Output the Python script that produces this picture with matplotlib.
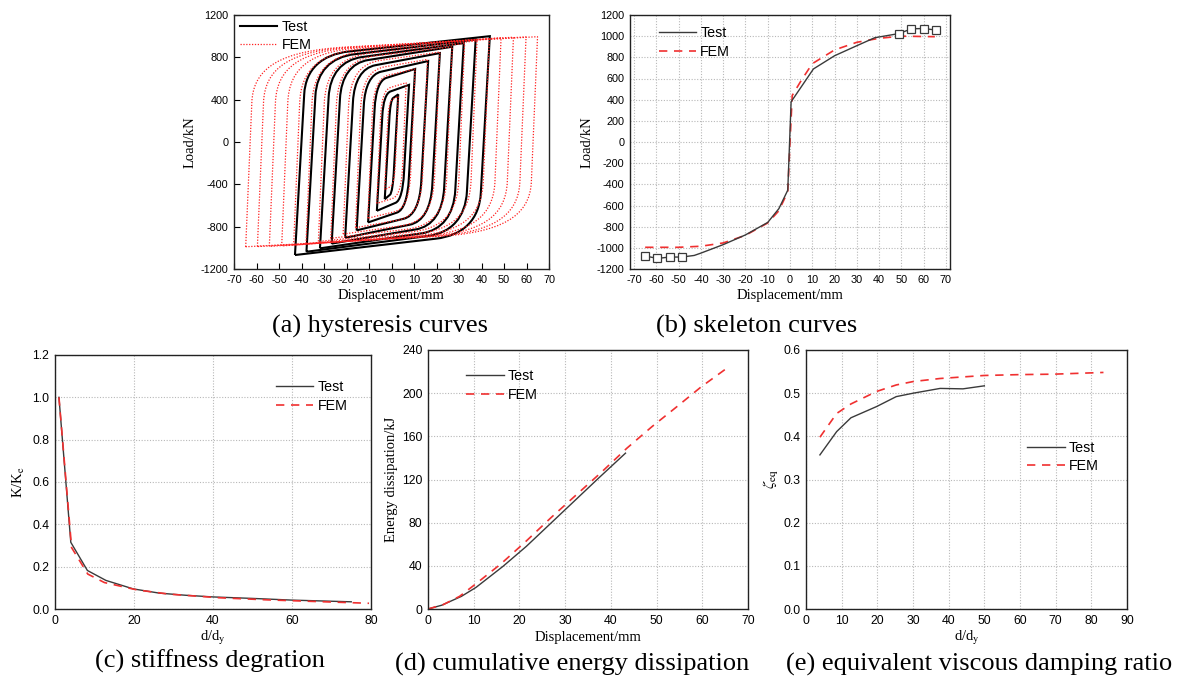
import numpy as np
import matplotlib
matplotlib.use('Agg')
import matplotlib.pyplot as plt
from matplotlib.path import Path
from matplotlib.patches import PathPatch
from matplotlib.lines import Line2D

plt.rcParams['font.family'] = ['Liberation Sans', 'DejaVu Sans']
plt.rcParams['mathtext.fontset'] = 'stix'
plt.rcParams['axes.unicode_minus'] = False

# ---------------- data ----------------
# (a) hysteresis loops: peak points of each cycle
test_pos_disp = [3.0, 7.8, 10.5, 16.3, 21.5, 27.0, 32.1, 37.4, 43.7]
test_pos_load = [450, 540, 690, 765, 840, 900, 935, 968, 1000]
test_neg_disp = [-3.0, -6.5, -10.4, -15.5, -20.6, -26.6, -31.8, -37.8, -42.9]
test_neg_load = [-540, -650, -760, -835, -905, -960, -1005, -1037, -1068]
fem_pos_disp = [3.0, 6.5, 10.5, 16.0, 21.5, 27.0, 32.5, 38.0, 43.5, 48.7, 54.2, 59.8, 64.9]
fem_pos_load = [430, 560, 690, 780, 850, 900, 930, 955, 975, 985, 990, 993, 995]
fem_neg_disp = [-3.0, -6.5, -10.5, -16.0, -21.5, -27.0, -32.5, -38.0, -43.5, -48.8, -54.3, -59.6, -64.8]
fem_neg_load = [-450, -580, -720, -810, -870, -910, -940, -960, -975, -982, -986, -988, -990]

# (b) skeleton curves
skel_test_disp = [-65, -59.5, -54, -48.5, -43, -40, -30, -20, -10, -5, -1, 0.5, 10.5, 20, 30, 38,
                  49, 54.5, 60, 65.5]
skel_test_load = [-1077, -1100, -1087, -1087, -1072, -1050, -970, -878, -760, -630, -455, 380, 690,
                  815, 910, 985, 1025, 1070, 1072, 1058]
skel_test_marked = [0, 1, 2, 3, 16, 17, 18, 19]
skel_fem_disp = [-65, -50, -40, -30, -20, -10, -5, -1, 0, 1, 5, 10, 20, 30, 40, 50, 65]
skel_fem_load = [-995, -995, -985, -954, -882, -765, -650, -470, 0, 440, 580, 740, 870, 942, 980, 1000, 995]

# (c) stiffness degradation
stiff_test_x = [1, 4, 8.2, 12.9, 19.8, 26.4, 33, 40, 50, 60, 75]
stiff_test_y = [1.0, 0.315, 0.182, 0.135, 0.095, 0.075, 0.065, 0.057, 0.05, 0.042, 0.034]
stiff_fem_x = [1, 4.2, 8.3, 12.5, 20.8, 29, 41.7, 54, 66.7, 79.5]
stiff_fem_y = [1.0, 0.29, 0.165, 0.125, 0.09, 0.07, 0.053, 0.043, 0.035, 0.027]

# (d) cumulative energy dissipation
energy_test_x = [0, 3, 7.3, 10.5, 16.4, 21.5, 27, 32, 37.5, 43.2]
energy_test_y = [0, 3.5, 11.7, 20, 39.5, 58, 80, 100, 122, 144.4]
energy_fem_x = [0, 3.3, 6.9, 10.5, 16, 21.5, 27, 32.5, 38, 43.5, 49, 54.3, 59.8, 65]
energy_fem_y = [0, 4, 11.7, 23.4, 42, 63, 85, 106, 127, 149, 169, 187, 206, 222]

# (e) equivalent viscous damping ratio
damp_test_x = [3.9, 8.6, 12.6, 19.8, 25.3, 30.1, 37.6, 44, 50]
damp_test_y = [0.357, 0.411, 0.443, 0.469, 0.492, 0.500, 0.511, 0.510, 0.517]
damp_fem_x = [3.9, 8.6, 12.6, 19.8, 25.3, 30.1, 37.6, 50, 60, 69.4, 83.4]
damp_fem_y = [0.398, 0.453, 0.475, 0.504, 0.519, 0.527, 0.534, 0.541, 0.543, 0.544, 0.548]

captions = ['(a) hysteresis curves', '(b) skeleton curves', '(c) stiffness degration',
            '(d) cumulative energy dissipation', '(e) equivalent viscous damping ratio']

# ---------------- style ----------------
RED = '#f03030'
DARK = '#3a3a3a'
SERIF = ['Liberation Serif', 'DejaVu Serif']
TICK_A = 7.8
TICK_C = 8.8
LAB = 10.5
LEG = 10.3

fig = plt.figure(figsize=(11.84, 6.82), dpi=100)
W, H = 1184.0, 682.0


def add_axes(l, r, t, b):
    return fig.add_axes([l / W, 1 - b / H, (r - l) / W, (b - t) / H])


def style(ax, fs, grid=True):
    for s in ax.spines.values():
        s.set_color('#222222')
        s.set_linewidth(1.0)
    if grid:
        ax.grid(True, color='#b8b8b8', linestyle=(0, (1, 1.5)), linewidth=0.8)
        ax.tick_params(length=0, labelsize=fs, pad=4)
    else:
        ax.tick_params(direction='in', length=4, width=0.8, labelsize=fs, pad=4)
    ax.set_axisbelow(True)


def loop_patch(ax, dp, pp, dn, pn, k_el, knee, width, ratio, c, **kw):
    span = dp - dn
    st = pp * (1 - ratio) / span
    sb = -pn * (1 - ratio) / span
    top = lambda x: pp - st * (dp - x)
    bot = lambda x: pn + sb * (x - dn)
    w = width * span
    yk = knee * pp
    xk = dn + (yk - pn) / k_el
    xc = dn + (top(dn) - pn) / k_el
    yc = top(xc)
    xe = xc + w
    ye = top(xe)
    v = [(dn, pn), (xk, yk),
         (xk + c * (xc - xk), yk + c * (yc - yk)),
         (xe + c * (xc - xe), ye + c * (yc - ye)), (xe, ye), (dp, pp)]
    yk2 = knee * pn
    xk2 = dp - (pp - yk2) / k_el
    xc2 = dp - (pp - bot(dp)) / k_el
    yc2 = bot(xc2)
    xe2 = xc2 - w
    ye2 = bot(xe2)
    v += [(xk2, yk2),
          (xk2 + c * (xc2 - xk2), yk2 + c * (yc2 - yk2)),
          (xe2 + c * (xc2 - xe2), ye2 + c * (yc2 - ye2)), (xe2, ye2), (dn, pn)]
    codes = [Path.MOVETO, Path.LINETO, Path.CURVE4, Path.CURVE4, Path.CURVE4, Path.LINETO,
             Path.LINETO, Path.CURVE4, Path.CURVE4, Path.CURVE4, Path.LINETO]
    ax.add_patch(PathPatch(Path(v, codes), fill=False, **kw))


def legend(ax, handles, x, y):
    ax.legend(handles=handles, loc='upper left', bbox_to_anchor=(x, y), frameon=False,
              fontsize=LEG, borderpad=0, borderaxespad=0, handlelength=2.6,
              handletextpad=0.3, labelspacing=0.3)


# ---------------- (a) hysteresis ----------------
axa = add_axes(234, 549, 15, 269)
for dp, pp, dn, pn in zip(test_pos_disp, test_pos_load, test_neg_disp, test_neg_load):
    loop_patch(axa, dp, pp, dn, pn, 370, 0.45, 0.22, 0.8, 0.65, edgecolor='black', lw=1.5)
for dp, pp, dn, pn in zip(fem_pos_disp, fem_pos_load, fem_neg_disp, fem_neg_load):
    loop_patch(axa, dp, pp, dn, pn, 500, 0.38, 0.32, 0.85, 0.7, edgecolor='#ff2020', lw=0.9,
               linestyle=(0, (1, 1.3)))
axa.set_xlim(-70, 70)
axa.set_ylim(-1200, 1200)
axa.set_xticks(np.arange(-70, 71, 10))
axa.set_yticks(np.arange(-1200, 1201, 400))
style(axa, TICK_A, grid=False)
axa.set_xlabel('Displacement/mm', family=SERIF, fontsize=LAB, labelpad=3)
axa.set_ylabel('Load/kN', family=SERIF, fontsize=LAB, labelpad=3)
legend(axa, [Line2D([], [], color='black', lw=1.5, label='Test'),
             Line2D([], [], color='#ff2020', lw=0.9, linestyle=(0, (1, 1.3)), label='FEM')],
       0.02, 0.98)

# ---------------- (b) skeleton ----------------
axb = add_axes(630, 950, 15, 269)
axb.plot(skel_fem_disp, skel_fem_load, color=RED, lw=1.2, dashes=(5, 4))
axb.plot(skel_test_disp, skel_test_load, color=DARK, lw=1.0, marker='s', ms=6,
         mfc='white', mec=DARK, mew=0.9, markevery=skel_test_marked)
axb.set_xlim(-71.8, 71.8)
axb.set_ylim(-1200, 1200)
axb.set_xticks(np.arange(-70, 71, 10))
axb.set_yticks(np.arange(-1200, 1201, 200))
style(axb, TICK_A)
axb.set_xlabel('Displacement/mm', family=SERIF, fontsize=LAB, labelpad=3)
axb.set_ylabel('Load/kN', family=SERIF, fontsize=LAB, labelpad=2)
legend(axb, [Line2D([], [], color=DARK, lw=1.0, label='Test'),
             Line2D([], [], color=RED, lw=1.2, dashes=(5, 4), label='FEM')],
       0.09, 0.955)

# ---------------- (c) stiffness ----------------
axc = add_axes(55, 371, 355, 609)
axc.plot(stiff_test_x, stiff_test_y, color=DARK, lw=1.0)
axc.plot(stiff_fem_x, stiff_fem_y, color=RED, lw=1.2, dashes=(5, 4))
axc.set_xlim(0, 80)
axc.set_ylim(0, 1.2)
axc.set_xticks(np.arange(0, 81, 20))
axc.set_yticks(np.arange(0, 1.21, 0.2))
axc.yaxis.set_major_formatter(matplotlib.ticker.FormatStrFormatter('%.1f'))
style(axc, TICK_C)
axc.set_xlabel('d/d$_\\mathrm{y}$', family=SERIF, fontsize=LAB, labelpad=2)
axc.set_ylabel('K/K$_\\mathrm{e}$', family=SERIF, fontsize=LAB, labelpad=4)
legend(axc, [Line2D([], [], color=DARK, lw=1.0, label='Test'),
             Line2D([], [], color=RED, lw=1.2, dashes=(5, 4), label='FEM')],
       0.70, 0.90)

# ---------------- (d) energy ----------------
axd = add_axes(428, 748, 350, 609)
axd.plot(energy_test_x, energy_test_y, color=DARK, lw=1.0)
axd.plot(energy_fem_x, energy_fem_y, color=RED, lw=1.2, dashes=(5, 4))
axd.set_xlim(0, 70)
axd.set_ylim(0, 240)
axd.set_xticks(np.arange(0, 71, 10))
axd.set_yticks(np.arange(0, 241, 40))
style(axd, TICK_C)
axd.set_xlabel('Displacement/mm', family=SERIF, fontsize=LAB, labelpad=3)
axd.set_ylabel('Energy dissipation/kJ', family=SERIF, fontsize=LAB, labelpad=3)
legend(axd, [Line2D([], [], color=DARK, lw=1.0, label='Test'),
             Line2D([], [], color=RED, lw=1.2, dashes=(5, 4), label='FEM')],
       0.12, 0.925)

# ---------------- (e) damping ----------------
axe = add_axes(806, 1127, 350, 609)
axe.plot(damp_test_x, damp_test_y, color=DARK, lw=1.0)
axe.plot(damp_fem_x, damp_fem_y, color=RED, lw=1.2, dashes=(5, 4))
axe.set_xlim(0, 90)
axe.set_ylim(0, 0.6)
axe.set_xticks(np.arange(0, 91, 10))
axe.set_yticks(np.arange(0, 0.61, 0.1))
axe.yaxis.set_major_formatter(matplotlib.ticker.FormatStrFormatter('%.1f'))
style(axe, TICK_C)
axe.set_xlabel('d/d$_\\mathrm{y}$', family=SERIF, fontsize=LAB, labelpad=2)
axe.set_ylabel('$\\zeta_\\mathrm{eq}$', fontsize=LAB + 1, labelpad=2)
legend(axe, [Line2D([], [], color=DARK, lw=1.0, label='Test'),
             Line2D([], [], color=RED, lw=1.2, dashes=(5, 4), label='FEM')],
       0.69, 0.65)

# ---------------- captions ----------------
cap_pos = [(380, 326), (757, 326), (210, 661), (572, 664), (979, 664)]
for txt, (cx, cy) in zip(captions, cap_pos):
    fig.text(cx / W, 1 - cy / H, txt, ha='center', va='center', family=SERIF, fontsize=19)

fig.savefig('out.png', dpi=100)
